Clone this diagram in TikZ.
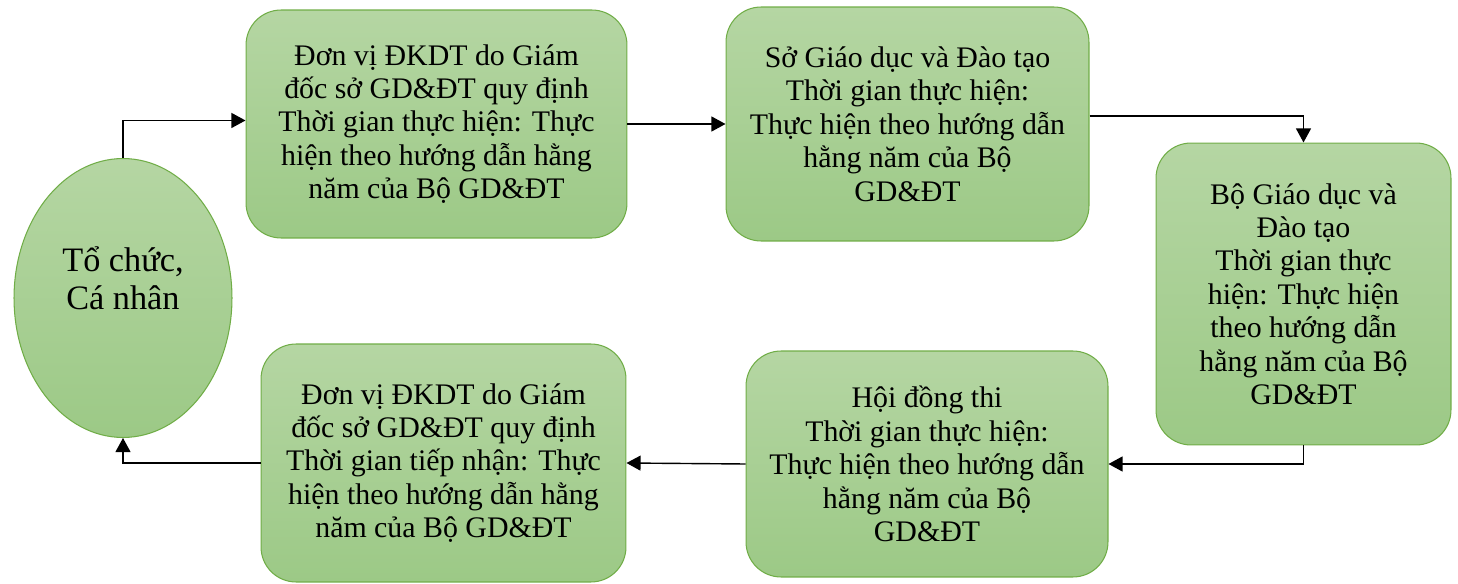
\documentclass[tikz,border=0pt]{standalone}
\usepackage{fontspec}
\setmainfont{Liberation Serif}
\usepackage{tikz}
\usetikzlibrary{shapes.geometric,arrows.meta}
\definecolor{boxtop}{HTML}{B5D6A3}
\definecolor{boxbot}{HTML}{9CC986}
\definecolor{boxline}{HTML}{70AD47}
\tikzset{
	box/.style={draw=boxline, line width=0.6pt, top color=boxtop, bottom color=boxbot,
		rounded corners=0.7cm, align=center, inner sep=2pt,
		font=\fontsize{17}{19}\selectfont},
	flow/.style={draw=black, line width=0.8pt, -{Triangle[length=8pt,width=8.5pt]}}
}
\begin{document}
\begin{tikzpicture}[x=0.02cm, y=-0.02cm]
		\useasboundingbox (0,0) rectangle (1458,584);
		\node[box, ellipse, rounded corners=0pt, minimum width=4.36cm, minimum height=5.58cm, inner sep=0pt,
			label={[align=center, yshift=11pt, font=\fontsize{19.5}{21.6}\selectfont]center:Tổ chức,\\Cá nhân}] (P) at (123,298) {};
		\node[box, minimum width=7.62cm, minimum height=4.56cm] (A) at (436.5,124) {Đơn vị ĐKDT do Giám\\đốc sở GD\&ĐT quy định\\Thời gian thực hiện: Thực\\hiện theo hướng dẫn hằng\\năm của Bộ GD\&ĐT};
		\node[box, minimum width=7.26cm, minimum height=4.68cm] (B) at (907.5,124) {Sở Giáo dục và Đào tạo\\Thời gian thực hiện:\\Thực hiện theo hướng dẫn\\hằng năm của Bộ\\GD\&ĐT};
		\node[box, minimum width=5.9cm, minimum height=6.04cm] (C) at (1303.5,294) {Bộ Giáo dục và\\Đào tạo\\Thời gian thực\\hiện: Thực hiện\\theo hướng dẫn\\hằng năm của Bộ\\GD\&ĐT};
		\node[box, minimum width=7.24cm, minimum height=4.52cm] (D) at (927,464) {Hội đồng thi\\Thời gian thực hiện:\\Thực hiện theo hướng dẫn\\hằng năm của Bộ\\GD\&ĐT};
		\node[box, minimum width=7.3cm, minimum height=4.76cm] (E) at (443.5,463) {Đơn vị ĐKDT do Giám\\đốc sở GD\&ĐT quy định\\Thời gian tiếp nhận: Thực\\hiện theo hướng dẫn hằng\\năm của Bộ GD\&ĐT};
		\draw[flow] (P.north) |- ([yshift=2pt]A.west);
		\draw[flow] (A.east) -- (B.west);
		\draw[flow] ([yshift=4.5pt]B.east) -| (C.north);
		\draw[flow] (C.south) |- (D.east);
		\draw[flow] (D.west) -- (E.east);
		\draw[flow] (E.west) -| (P.south);
\end{tikzpicture}
\end{document}
